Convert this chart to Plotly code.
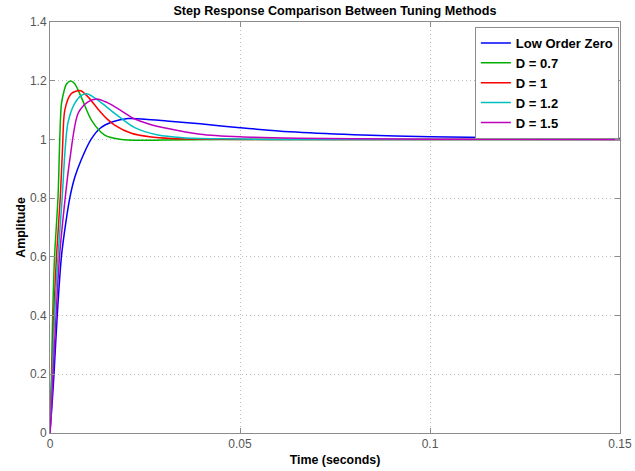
import plotly.graph_objects as go

# ---- data ----
t_low = [0, 0.0005, 0.00105, 0.0019, 0.003, 0.0042, 0.0052, 0.0065, 0.0082, 0.0108, 0.0132,
         0.0165, 0.0205, 0.025, 0.0307, 0.0395, 0.05, 0.0632, 0.08, 0.1, 0.13, 0.15]
y_low = [0, 0.09, 0.2, 0.4, 0.6, 0.72, 0.8, 0.87, 0.93, 1.0, 1.038,
         1.06, 1.071, 1.069, 1.063, 1.053, 1.040, 1.026, 1.016, 1.009, 1.005, 1.003]

t_d07 = [0, 0.0004, 0.0007, 0.0012, 0.0021, 0.003, 0.0037, 0.0043, 0.0054, 0.0065, 0.0082,
         0.0109, 0.0144, 0.0188, 0.024, 0.03, 0.05, 0.15]
y_d07 = [0, 0.2, 0.4, 0.6, 0.8, 1.12, 1.165, 1.188, 1.199, 1.19, 1.145,
         1.066, 1.015, 1.0, 0.997, 0.998, 1.0, 1.0]

t_d10 = [0, 0.0005, 0.001, 0.0017, 0.0027, 0.0033, 0.0039, 0.0055, 0.0068, 0.0081, 0.0100,
         0.0126, 0.015, 0.017, 0.0214, 0.0262, 0.032, 0.04, 0.06, 0.15]
y_d10 = [0, 0.2, 0.4, 0.6, 0.8, 0.97, 1.10, 1.155, 1.164, 1.166, 1.145,
         1.104, 1.07, 1.049, 1.021, 1.009, 1.003, 1.001, 1.0, 1.0]

t_d12 = [0, 0.0006, 0.0012, 0.0021, 0.0032, 0.0039, 0.0047, 0.0065, 0.0083, 0.0099, 0.0132,
         0.017, 0.0223, 0.0284, 0.035, 0.045, 0.06, 0.15]
y_d12 = [0, 0.2, 0.4, 0.6, 0.8, 0.95, 1.055, 1.123, 1.150, 1.155, 1.128,
         1.089, 1.040, 1.015, 1.006, 1.002, 1.0, 1.0]

t_d15 = [0, 0.0004, 0.0008, 0.0016, 0.0025, 0.004, 0.0052, 0.0074, 0.010, 0.0123, 0.015,
         0.0185, 0.0219, 0.0262, 0.0307, 0.0395, 0.05, 0.065, 0.08, 0.1, 0.15]
y_d15 = [0, 0.09, 0.2, 0.4, 0.6, 0.8, 0.93, 1.089, 1.128, 1.138, 1.126,
         1.10, 1.072, 1.052, 1.038, 1.018, 1.009, 1.004, 1.002, 1.001, 1.0]

names = ["Low Order Zero", "D = 0.7", "D = 1", "D = 1.2", "D = 1.5"]
colors = ["#0000ff", "#00b000", "#ff0000", "#00bfbf", "#bf00bf"]
series = [(t_low, y_low), (t_d07, y_d07), (t_d10, y_d10), (t_d12, y_d12), (t_d15, y_d15)]

x_ticks = [0, 0.05, 0.1, 0.15]
x_labels = ["0", "0.05", "0.1", "0.15"]
y_ticks = [0, 0.2, 0.4, 0.6, 0.8, 1.0, 1.2, 1.4]
y_labels = ["0", "0.2", "0.4", "0.6", "0.8", "1", "1.2", "1.4"]

fig = go.Figure()
for (t, y), n, c in zip(series, names, colors):
    fig.add_trace(go.Scatter(x=t, y=y, name="<b>" + n + "</b>", mode="lines",
                             line=dict(color=c, width=1.5, shape="spline", smoothing=0.8)))

FONT = "Liberation Sans, Arial, sans-serif"
axis_common = dict(showline=True, linecolor="#8c8c8c", linewidth=1, mirror="ticks",
                   ticks="inside", ticklen=5, tickcolor="#8c8c8c",
                   showgrid=True, gridcolor="#bdbdbd", griddash="1px,3px", gridwidth=1,
                   zeroline=False, automargin=False,
                   tickfont=dict(family=FONT, size=12, color="#555555"))

fig.update_layout(
    width=635, height=471,
    margin=dict(l=50, r=15, t=22, b=38),
    paper_bgcolor="white", plot_bgcolor="white",
    title=dict(text="<b>Step Response Comparison Between Tuning Methods</b>",
               x=0.5, xref="paper", xanchor="center", y=1 - 11 / 471, yanchor="middle",
               yref="container",
               font=dict(family=FONT, size=12.6, color="black")),
    xaxis=dict(range=[0, 0.15], tickvals=x_ticks, ticktext=x_labels,
               title=dict(text="<b>Time (seconds)</b>", standoff=4,
                          font=dict(family=FONT, size=12.4, color="black")),
               **axis_common),
    yaxis=dict(range=[0, 1.4], tickvals=y_ticks, ticktext=y_labels,
               title=dict(text="<b>Amplitude</b>", standoff=1,
                          font=dict(family=FONT, size=12.4, color="black")),
               **axis_common),
    legend=dict(x=0.998, y=0.988, xanchor="right", yanchor="top",
                bgcolor="white", bordercolor="#8c8c8c", borderwidth=1,
                font=dict(family=FONT, size=13, color="black"),
                tracegroupgap=0, itemwidth=30),
    showlegend=True,
)

fig.write_html("out.html")
